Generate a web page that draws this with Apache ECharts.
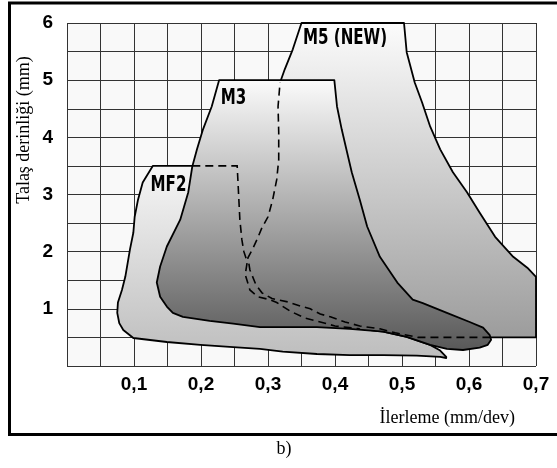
<!DOCTYPE html>
<html><head><meta charset="utf-8">
<script src="https://cdn.jsdelivr.net/npm/echarts@6/dist/echarts.min.js"></script>
<style>html,body{margin:0;padding:0;background:#fff}#c{width:557px;height:468px}</style>
</head><body><div id="c"></div>
<script>
// Tick labels
const X_TICK_LABELS = ['0,1', '0,2', '0,3', '0,4', '0,5', '0,6', '0,7'];
const Y_TICK_LABELS = ['1', '2', '3', '4', '5', '6'];

// M5 (NEW) outline: visible top/right part, hidden (dashed) part, visible upper-left part
const M5_VISIBLE = [[0.35,6.0],[0.503,6.0],[0.507,5.49],[0.519,4.96],[0.530,4.61],[0.542,4.19],[0.557,3.79],[0.576,3.39],[0.597,3.04],[0.616,2.68],[0.639,2.26],[0.666,1.91],[0.687,1.72],[0.70,1.56],[0.70,0.5],[0.632,0.5]];
const M5_HIDDEN = [[0.632,0.5],[0.524,0.5],[0.512,0.53],[0.490,0.58],[0.467,0.65],[0.437,0.70],[0.415,0.77],[0.393,0.86],[0.378,0.91],[0.363,1.00],[0.348,1.05],[0.330,1.12],[0.306,1.18],[0.291,1.28],[0.282,1.42],[0.273,1.68],[0.270,1.89],[0.278,2.07],[0.285,2.25],[0.291,2.42],[0.300,2.61],[0.307,2.91],[0.313,3.26],[0.316,3.61],[0.316,4.09],[0.315,4.54],[0.318,4.96]];
const M5_LEFT = [[0.318,4.96],[0.325,5.19],[0.337,5.54],[0.35,6.0]];

// M3 outline
const M3_OUTLINE = [[0.227,5.0],[0.399,5.0],[0.403,4.54],[0.410,4.14],[0.418,3.74],[0.425,3.39],[0.437,2.91],[0.448,2.44],[0.467,1.91],[0.493,1.46],[0.516,1.16],[0.531,1.10],[0.567,0.93],[0.601,0.77],[0.621,0.67],[0.631,0.54],[0.633,0.46],[0.628,0.37],[0.616,0.32],[0.591,0.28],[0.567,0.30],[0.542,0.37],[0.507,0.51],[0.472,0.60],[0.422,0.65],[0.373,0.68],[0.322,0.68],[0.288,0.68],[0.248,0.74],[0.213,0.79],[0.173,0.86],[0.158,0.93],[0.149,1.04],[0.139,1.21],[0.134,1.46],[0.139,1.74],[0.149,2.09],[0.169,2.56],[0.181,3.04],[0.187,3.49],[0.194,3.79],[0.203,4.14],[0.216,4.54]];

// MF2 outline: hidden (dashed) part and visible part
const MF2_HIDDEN = [[0.187,3.5],[0.254,3.5],[0.258,2.56],[0.261,2.21],[0.264,2.0],[0.269,1.82],[0.266,1.60],[0.273,1.33],[0.285,1.21],[0.303,1.16],[0.313,1.11],[0.333,0.96],[0.355,0.84],[0.378,0.77],[0.40,0.70],[0.437,0.65]];
const MF2_VISIBLE = [[0.437,0.65],[0.472,0.60],[0.507,0.51],[0.542,0.37],[0.557,0.27],[0.566,0.16],[0.566,0.14],[0.557,0.16],[0.522,0.18],[0.472,0.19],[0.422,0.19],[0.373,0.21],[0.322,0.25],[0.288,0.30],[0.248,0.33],[0.199,0.37],[0.149,0.42],[0.099,0.49],[0.084,0.63],[0.078,0.75],[0.075,0.93],[0.076,1.11],[0.082,1.33],[0.087,1.56],[0.094,2.04],[0.099,2.33],[0.101,2.61],[0.106,2.91],[0.113,3.21],[0.128,3.5],[0.187,3.5]];

// Region names and their anchor (data units)
const REGION_NAMES = ['MF2', 'M3', 'M5 (NEW)'];
const REGION_NAME_X = [0.1515, 0.2485, 0.415];
const REGION_NAME_Y = [3.15, 4.67, 5.73];

const chart = echarts.init(document.getElementById('c'), null, {renderer: 'canvas'});

function grad(c0, c1) {
  return new echarts.graphic.LinearGradient(0, 0, 0, 1, [{offset: 0, color: c0}, {offset: 1, color: c1}]);
}

const regionFont = 'bold 21px "DejaVu Sans", sans-serif';

chart.setOption({
  animation: false,
  backgroundColor: '#fff',
  grid: {left: 67, right: 21, top: 23, bottom: 102, show: true, backgroundColor: '#f9f9f9', borderWidth: 0},
  xAxis: {
    type: 'value', min: 0, max: 0.7, interval: 0.05,
    axisLine: {show: false}, axisTick: {show: false},
    splitLine: {show: true, lineStyle: {color: '#333', width: 1}},
    axisLabel: {
      margin: 9, color: '#000', fontSize: 19, fontWeight: 'bold', fontFamily: '"Liberation Sans", Arial, sans-serif',
      formatter: function (v) {
        const k = Math.round(v * 20);
        if (k === 0 || k % 2) return '';
        return X_TICK_LABELS[k / 2 - 1] || '';
      }
    }
  },
  yAxis: {
    type: 'value', min: 0, max: 6, interval: 0.5,
    axisLine: {show: false}, axisTick: {show: false},
    splitLine: {show: true, lineStyle: {color: '#333', width: 1}},
    axisLabel: {
      margin: 14, color: '#000', fontSize: 19, fontWeight: 'bold', fontFamily: '"Liberation Sans", Arial, sans-serif',
      formatter: function (v) {
        const k = Math.round(v * 2);
        if (k === 0 || k % 2) return '';
        return Y_TICK_LABELS[k / 2 - 1] || '';
      }
    }
  },
  graphic: [
    {type: 'rect', silent: true, shape: {x: 9.5, y: 3, width: 600, height: 431.5}, style: {fill: 'none', stroke: '#000', lineWidth: 3}},
    {type: 'text', x: 24, y: 130, rotation: Math.PI / 2, style: {text: 'Talaş derinliği (mm)', fill: '#000', font: '18px "Liberation Serif", "Times New Roman", serif', align: 'center', verticalAlign: 'middle'}},
    {type: 'text', x: 515, y: 418, style: {text: 'İlerleme (mm/dev)', fill: '#000', font: '18px "Liberation Serif", "Times New Roman", serif', align: 'right', verticalAlign: 'middle'}},
    {type: 'text', x: 284, y: 449, style: {text: 'b)', fill: '#000', font: '18px "Liberation Serif", "Times New Roman", serif', align: 'center', verticalAlign: 'middle'}}
  ],
  series: [{
    type: 'custom',
    coordinateSystem: 'cartesian2d',
    data: [[0, 0]],
    clip: false,
    renderItem: function (params, api) {
      const pts = arr => arr.map(p => api.coord(p));
      const m5 = M5_VISIBLE.concat(M5_HIDDEN.slice(1), M5_LEFT.slice(1));
      const mf2 = MF2_HIDDEN.concat(MF2_VISIBLE.slice(1));
      const dash = {fill: 'none', stroke: '#000', lineWidth: 1.6, lineDash: [8, 5]};
      const children = [
        {type: 'polygon', shape: {points: pts(m5)}, style: {fill: grad('#fcfcfc', '#9c9c9c'), stroke: '#000', lineWidth: 1.8, lineJoin: 'round'}},
        {type: 'polygon', shape: {points: pts(mf2)}, style: {fill: grad('#f6f6f6', '#bdbdbd'), stroke: '#000', lineWidth: 1.8, lineJoin: 'round'}},
        {type: 'polygon', shape: {points: pts(M3_OUTLINE)}, style: {fill: grad('#fbfbfb', '#585858'), stroke: '#000', lineWidth: 1.8, lineJoin: 'round'}},
        {type: 'polyline', shape: {points: pts(M5_HIDDEN)}, style: dash},
        {type: 'polyline', shape: {points: pts(MF2_HIDDEN)}, style: dash}
      ];
      REGION_NAMES.forEach((t, i) => {
        const p = api.coord([REGION_NAME_X[i], REGION_NAME_Y[i]]);
        children.push({type: 'text', x: p[0], y: p[1], scaleX: 0.72, style: {text: t, fill: '#000', font: regionFont, align: 'center', verticalAlign: 'middle'}});
      });
      return {type: 'group', children: children};
    }
  }]
});
</script>
</body></html>
